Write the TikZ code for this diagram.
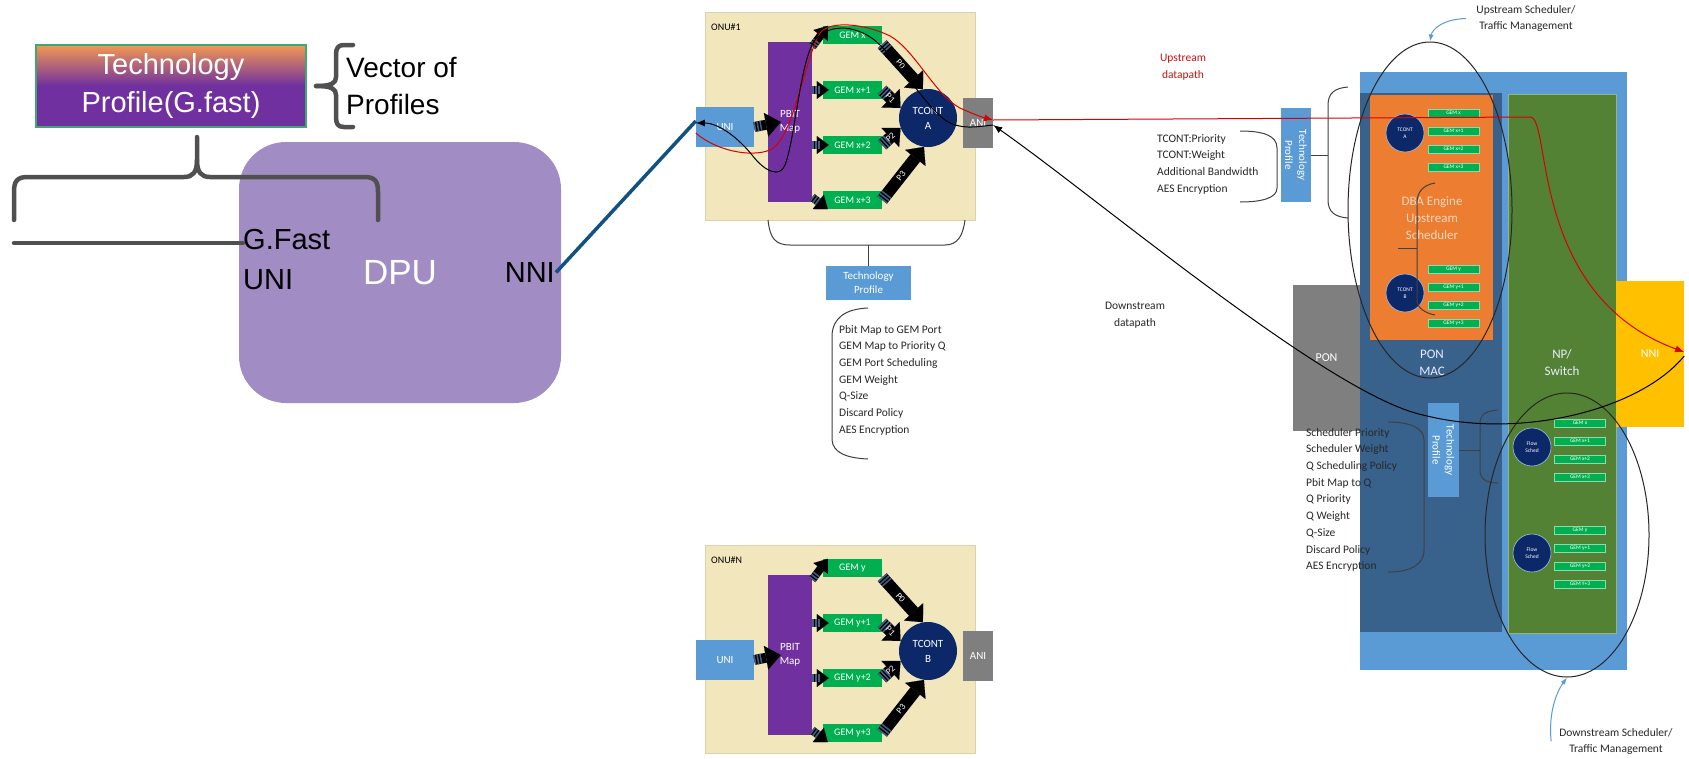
\documentclass[tikz,border=0pt]{standalone}
\usepackage{fontspec}
\setmainfont{Carlito}
\newfontfamily\arialfont{Liberation Sans}
\usetikzlibrary{arrows.meta}
\usetikzlibrary{calc}
\usetikzlibrary{positioning}
\usetikzlibrary{shapes.geometric}

\definecolor{onubg}{RGB}{242,231,188}
\definecolor{uniblue}{RGB}{91,155,213}
\definecolor{pbitpurple}{RGB}{112,48,160}
\definecolor{gemgreen}{RGB}{0,176,80}
\definecolor{tcnavy}{RGB}{13,40,105}
\definecolor{anigray}{RGB}{127,127,127}
\definecolor{stripe}{RGB}{70,92,128}
\definecolor{dpulav}{RGB}{161,140,196}
\definecolor{tporange}{RGB}{242,152,82}
\definecolor{tpgreen}{RGB}{60,170,110}
\definecolor{bracegray}{RGB}{80,80,80}
\definecolor{linkblue}{RGB}{18,82,130}
\definecolor{ponmacblue}{RGB}{56,97,140}
\definecolor{dbaorange}{RGB}{237,125,49}
\definecolor{dbatxt}{RGB}{250,215,190}
\definecolor{npgreen}{RGB}{84,130,53}
\definecolor{nniyellow}{RGB}{255,192,0}
\definecolor{upred}{RGB}{200,20,20}
\definecolor{txtgray}{RGB}{40,40,40}

\tikzset{
    boxn/.style = {rectangle, inner sep=0pt, align=center, text=white},
    onu_box/.style = {rectangle, fill=onubg, draw=onubg!80!gray, line width=0.5pt,
        minimum width=270pt, minimum height=208pt},% ONU frame
    onu_lbl/.style = {inner sep=0pt, font=\fontsize{10}{12}\selectfont},
    uni_n/.style = {boxn, fill=uniblue, minimum width=58pt, minimum height=40pt,
        font=\fontsize{11}{13}\selectfont},
    pbit_n/.style = {boxn, fill=pbitpurple, minimum width=44pt, minimum height=160pt,
        font=\fontsize{11}{14}\selectfont},
    gem_n/.style = {boxn, fill=gemgreen, minimum width=59pt, minimum height=18pt,
        font=\fontsize{10}{12}\selectfont},% GEM port, ONU side
    tcont_n/.style = {boxn, circle, fill=tcnavy, minimum size=58pt,
        font=\fontsize{11}{15}\selectfont},
    ani_n/.style = {boxn, fill=anigray, minimum width=30pt, minimum height=50pt,
        font=\fontsize{11}{13}\selectfont},
    tp_n/.style = {boxn, fill=uniblue, minimum width=85pt, minimum height=34pt,
        font=\fontsize{11}{14}\selectfont},% technology profile
    blk_arr/.style = {line width=8pt, -{Triangle[length=12pt,width=18pt,line width=0.1pt]},
        postaction={draw=stripe, arrows=-,
            dash pattern=on 1.5pt off 1.5pt on 1.5pt off 1.5pt on 1.5pt off 900pt}},% striped arrow
    uni_arr/.style = {blk_arr, line width=10pt, -{Triangle[length=15pt,width=24pt,line width=0.1pt]}},
    p_arr/.style = {blk_arr, line width=12pt, -{Triangle[length=14pt,width=26pt,line width=0.1pt]}},
    p_lbl/.style = {pos=0.45, sloped, inner sep=0pt, text=white, font=\fontsize{9}{10}\selectfont},
    tp_big/.style = {boxn, top color=tporange, bottom color=pbitpurple, middle color=pbitpurple,
        draw=tpgreen, line width=1.2pt, minimum width=270pt, minimum height=82pt,
        font=\arialfont\fontsize{29}{38}\selectfont},
    big_txt/.style = {inner sep=0pt, align=left, font=\arialfont\fontsize{29}{40}\selectfont},
    dpu_n/.style = {rectangle, rounded corners=47pt, fill=dpulav, minimum width=322pt,
        minimum height=261pt, text=white, font=\arialfont\fontsize{35}{40}\selectfont},
    brace_l/.style = {draw=bracegray, line width=4.5pt, line cap=round, line join=round},
    dpu_link/.style = {draw=linkblue, line width=3.5pt},
    olt_n/.style = {rectangle, fill=uniblue, minimum width=267pt, minimum height=598pt},
    ponmac_n/.style = {rectangle, fill=ponmacblue, minimum width=142pt, minimum height=539pt},
    dba_n/.style = {rectangle, fill=dbaorange, minimum width=123pt, minimum height=245pt},
    np_n/.style = {rectangle, fill=npgreen, draw=npgreen!60!white, line width=0.8pt,
        minimum width=108pt, minimum height=539pt},
    pon_n/.style = {boxn, fill=anigray, minimum width=67pt, minimum height=146pt,
        font=\fontsize{12}{14}\selectfont},
    nni_n/.style = {boxn, fill=nniyellow, minimum width=68pt, minimum height=146pt,
        font=\fontsize{12}{14}\selectfont},
    olt_txt/.style = {inner sep=0pt, align=center, text=white!92!blue,
        font=\fontsize{13}{17}\selectfont},
    tsm_n/.style = {boxn, circle, fill=tcnavy, draw=uniblue!60!white, line width=0.6pt,
        minimum size=38pt, font=\fontsize{5.5}{7}\selectfont},% small scheduler circle
    sgem_n/.style = {boxn, fill=gemgreen, draw=gemgreen!45!white, line width=0.6pt,
        minimum width=51pt, minimum height=8pt, font=\fontsize{5.5}{6}\selectfont},% GEM port, OLT side
    lst/.style = {inner sep=0pt, align=left, text=txtgray, font=\fontsize{11.5}{16.7}\selectfont},
    ann_txt/.style = {inner sep=0pt, align=center, text=txtgray, font=\fontsize{11.5}{16.7}\selectfont},
    ell_n/.style = {ellipse, draw=black!85, line width=1pt, inner sep=0pt},
    ann_arr/.style = {draw=uniblue, line width=1pt, -{Latex[length=7pt,width=5pt]}},
    up_path/.style = {draw=red!85!black, line width=1pt, ->},
    dn_path/.style = {draw=black, line width=1pt, ->},
    br_l/.style = {draw=black!75, line width=1pt},
}

\begin{document}
\begin{tikzpicture}[x=1pt, y=-1pt, >={Latex[length=9pt,width=7pt]}]
\fill[white] (0,0) rectangle (1689,758);
\useasboundingbox (0,0) rectangle (1689,758);

% DPU side
\node[dpu_n] (dpu) at (400,272.5) {DPU};
\node[tp_big] (tpg) at (171,86) {Technology\\Profile(G.fast)};
\draw[brace_l] (353,45) -- (344,45) .. controls (338,45) and (336,48) .. (336,55) -- (336,77)
    .. controls (336,83) and (332,86) .. (316,86);
\draw[brace_l] (353,127) -- (344,127) .. controls (338,127) and (336,124) .. (336,117) -- (336,95)
    .. controls (336,89) and (332,86) .. (316,86);
\coordinate (vbrace) at (336,86);
\node[big_txt, font=\arialfont\fontsize{28}{37}\selectfont, right=10pt of vbrace] (vop) {Vector of\\Profiles};
\draw[brace_l] (14,220) -- (14,192) .. controls (14,181) and (17,177) .. (28,177) -- (184,177)
    .. controls (193,177) and (197,172) .. (197,160) -- (197,137);
\draw[brace_l] (378,220) -- (378,192) .. controls (378,181) and (375,177) .. (364,177) -- (210,177)
    .. controls (201,177) and (197,172) .. (197,160);
\node[big_txt, anchor=north west] (gfast) at (243,229) {G.Fast\\UNI};
\coordinate (gline) at (14,243);
\draw[brace_l] (gline) -- (gline -| gfast.west);
\node[big_txt, anchor=east, inner sep=1pt] (dnni) at (556,272.5) {NNI};

% ONUs
\foreach \o/\dy/\g/\t in {1/0/x/A, N/533/y/B}{
    \node[onu_box] (onu\o) at (840,116+\dy) {};
    \node[onu_lbl, anchor=west] at (711,27+\dy) {ONU\#\o};
    \node[uni_n] (uni\o) at (725,127+\dy) {UNI};
    \node[pbit_n] (pbit\o) at (790,122+\dy) {PBIT\\Map};
    \foreach \i in {0,...,3}
        \node[gem_n] (gem\o-\i) at (852.5,35+55*\i+\dy) {GEM \g\ifnum\i>0 +\i\fi};
    \node[tcont_n] (tc\o) at (928,118+\dy) {TCONT\\\t};
    \node[ani_n] (ani\o) at (978,123+\dy) {ANI};
    \draw[uni_arr] (uni\o.east) -- ([xshift=13pt]pbit\o.west);
    \draw[blk_arr] ([yshift=-5pt]pbit\o.north east) -- ([xshift=5pt]gem\o-0.north west);
    \draw[blk_arr] (pbit\o.east |- gem\o-1) -- ([xshift=6pt]gem\o-1.west);
    \draw[blk_arr] (pbit\o.east |- gem\o-2) -- ([xshift=6pt]gem\o-2.west);
    \draw[blk_arr] ([yshift=5pt]pbit\o.south east) -- ([xshift=5pt]gem\o-3.south west);
    \draw[p_arr] (gem\o-0.south east) -- (tc\o.100) node[p_lbl] {P0};
    \draw[p_arr] (gem\o-1.east) -- (tc\o.160) node[p_lbl] {P1};
    \draw[p_arr] (gem\o-2.east) -- (tc\o.200) node[p_lbl] {P2};
    \draw[p_arr] (gem\o-3.east) -- (tc\o.262) node[p_lbl] {P3};
}
\draw[dpu_link] (dnni.east) -- ([yshift=6pt]uni1.west);

% ONU technology profile
\draw[br_l] (768,220) .. controls (770,238) and (775,245) .. (790,245) -- (945,245)
    .. controls (958,245) and (963,235) .. (965,220);
\node[tp_n] (tp_onu) at (868.5,283) {Technology\\Profile};
\draw[br_l] (tp_onu.north) -- ++(0,-21);
\draw[br_l] (868,308) .. controls (845,309) and (833,318) .. (832,335) -- (832,440)
    .. controls (833,452) and (845,458) .. (868,459);
\node[lst, anchor=north west] (l_onu) at (839,325) {Pbit Map to GEM Port\\GEM Map to Priority Q\\GEM Port Scheduling\\GEM Weight\\Q-Size\\Discard Policy\\AES Encryption};

% OLT
\node[olt_n] (olt) at (1493.5,371) {};
\node[ponmac_n] (ponmac) at (1431,362.5) {};
\node[dba_n] (dba) at (1431.5,217.5) {};
\node[np_n] (np) at (1562,363.5) {};
\node[pon_n] (pon) at (1326.5,358) {PON};
\node[nni_n] (onni) at (1650,354) {NNI};
\node[olt_txt, text=dbatxt] at (1432,218) {DBA Engine\\Upstream\\Scheduler};
\node[olt_txt] at (1432,363) {PON\\MAC};
\node[olt_txt] at (1562,363) {NP/\\Switch};
\node[tsm_n] (tca) at (1405,133) {TCONT\\A};
\node[tsm_n] (tcb) at (1405,293) {TCONT\\B};
\node[tsm_n] (fs1) at (1532,447) {Flow\\Sched};
\node[tsm_n] (fs2) at (1532,553) {Flow\\Sched};
\foreach \i in {0,...,3}{
    \node[sgem_n] (ugx\i) at (1453.5,113+18*\i) {GEM x\ifnum\i>0 +\i\fi};
    \node[sgem_n] (ugy\i) at (1453.5,269+18*\i) {GEM y\ifnum\i>0 +\i\fi};
    \node[sgem_n] (dgx\i) at (1580,423+18*\i) {GEM x\ifnum\i>0 +\i\fi};
    \node[sgem_n] (dgy\i) at (1580,530+18*\i) {GEM \ifnum\i=3 Y\else y\fi\ifnum\i>0 +\i\fi};
}
\draw[br_l] (1435,183) .. controls (1423,185) and (1417,192) .. (1417,203) -- (1417,300)
    .. controls (1417,308) and (1425,313) .. (1435,315);
\draw[br_l] (1398,248) -- (1417,248);

% upstream technology profile
\node[tp_n, rotate=-90, minimum width=94pt, minimum height=30pt] (tp_us) at (1296,155) {Technology\\Profile};
\draw[br_l] (tp_us.north) -- (1328,155);
\draw[br_l] (1348,87) .. controls (1335,88) and (1328,93) .. (1328,105) -- (1328,200)
    .. controls (1328,212) and (1335,217) .. (1348,218);
\draw[br_l] (1240,131) .. controls (1262,131) and (1277,135) .. (1277,148) -- (1277,188)
    .. controls (1277,198) and (1262,202) .. (1240,202);
\node[lst, anchor=north west] (l_us) at (1157,134) {TCONT:Priority\\TCONT:Weight\\Additional Bandwidth\\AES Encryption};

% downstream technology profile
\node[tp_n, rotate=-90, minimum width=94pt, minimum height=31pt] (tp_ds) at (1443.5,450) {Technology\\Profile};
\draw[br_l] (tp_ds.north) -- (1480,450);
\draw[br_l] (1498,410) .. controls (1486,411) and (1480,414) .. (1480,424) -- (1480,470)
    .. controls (1480,479) and (1486,483) .. (1498,483);
\draw[br_l] (1388,422) .. controls (1410,422) and (1424,428) .. (1424,440) -- (1424,550)
    .. controls (1424,565) and (1410,572) .. (1388,572);
\node[lst, anchor=north west] (l_ds) at (1306,428) {Scheduler Priority\\Scheduler Weight\\Q Scheduling Policy\\Pbit Map to Q\\Q Priority\\Q Weight\\Q-Size\\Discard Policy\\AES Encryption};

% schedulers
\node[ell_n, minimum width=164pt, minimum height=336pt] (usched) at (1430,210) {};
\node[ell_n, minimum width=164pt, minimum height=284pt] (dsched) at (1567,535) {};
\node[ann_txt, anchor=north] (usl) at (1526,5) {Upstream Scheduler/\\Traffic Management};
\node[ann_txt, anchor=south] (dsl) at (1616,755) {Downstream Scheduler/\\Traffic Management};
\draw[ann_arr] ([xshift=-10pt]usl.west) .. controls (1442,19) and (1432,30) .. (usched.north);
\draw[ann_arr] ([xshift=-8pt]dsl.west) .. controls (1548,710) and (1558,690) .. (dsched.south);
\node[ann_txt, text=upred] (ulbl) at (1183,67) {Upstream\\datapath};
\node[ann_txt] (dlbl) at (1135,315) {Downstream\\datapath};

% datapaths
\draw[up_path] ([yshift=-6pt]uni1.west) .. controls (715,150) and (750,158) .. (770,150)
    .. controls (795,140) and (808,40) .. (823,30) .. controls (838,20) and (870,26) .. (890,36)
    .. controls (915,50) and (935,95) .. (960,108) .. controls (975,115) and (985,118) .. ([yshift=3pt]ani1.east);
\draw[up_path] ([yshift=3pt]ani1.east) -- (1530,117) .. controls (1552,117) and (1528,295) .. ([yshift=2pt]onni.east);
\draw[dn_path] ([yshift=-2pt]onni.east) .. controls (1640,410) and (1520,440) .. (1423,415)
    .. controls (1330,395) and (1100,200) .. ([yshift=-2pt]ani1.east);
\draw[dn_path] ([yshift=-2pt]ani1.east) .. controls (975,127) and (960,130) .. (945,120)
    .. controls (925,105) and (905,70) .. (880,45) .. controls (860,25) and (830,22) .. (815,40)
    .. controls (800,60) and (795,140) .. (785,165) .. controls (780,178) and (765,172) .. (752,155)
    .. controls (740,140) and (720,123) .. ([yshift=4pt]uni1.west);
\end{tikzpicture}
\end{document}
